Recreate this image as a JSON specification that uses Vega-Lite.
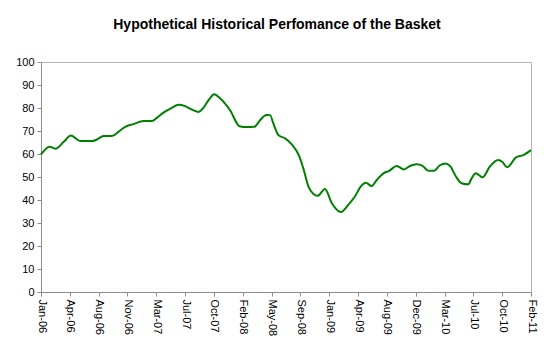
{
  "$schema": "https://vega.github.io/schema/vega-lite/v6.json",
  "autosize": "none",
  "width": 490,
  "height": 230,
  "padding": {"left": 41, "top": 62, "right": 20, "bottom": 61},
  "background": "white",
  "title": {
    "text": "Hypothetical Historical Perfomance of the Basket",
    "font": "Liberation Sans",
    "fontSize": 14,
    "fontWeight": "bold",
    "color": "#000000",
    "anchor": "middle",
    "dx": -9,
    "offset": 24
  },
  "config": {
    "view": {"stroke": "#b4b4b4", "strokeWidth": 1},
    "axis": {
      "labelFont": "Liberation Sans",
      "labelFontSize": 11,
      "labelColor": "#000000",
      "domainColor": "#8c8c8c",
      "tickColor": "#8c8c8c",
      "grid": false,
      "title": null
    }
  },
  "data": {
    "values": [
      {"pos": 0.0, "value": 59.8},
      {"pos": 0.3, "value": 63.2},
      {"pos": 0.5, "value": 62.3},
      {"pos": 0.79, "value": 65.3},
      {"pos": 1.04, "value": 68.0},
      {"pos": 1.36, "value": 65.6},
      {"pos": 1.77, "value": 65.6},
      {"pos": 1.94, "value": 66.3},
      {"pos": 2.17, "value": 67.8},
      {"pos": 2.46, "value": 67.8},
      {"pos": 2.69, "value": 69.7},
      {"pos": 2.92, "value": 71.8},
      {"pos": 3.21, "value": 73.0},
      {"pos": 3.56, "value": 74.3},
      {"pos": 3.85, "value": 74.3},
      {"pos": 4.02, "value": 75.7},
      {"pos": 4.25, "value": 78.0},
      {"pos": 4.54, "value": 80.1},
      {"pos": 4.77, "value": 81.4},
      {"pos": 5.0, "value": 80.8},
      {"pos": 5.24, "value": 79.3},
      {"pos": 5.47, "value": 78.3},
      {"pos": 5.64, "value": 80.2},
      {"pos": 5.85, "value": 84.1},
      {"pos": 6.01, "value": 86.0},
      {"pos": 6.22, "value": 84.1},
      {"pos": 6.56, "value": 79.0},
      {"pos": 6.89, "value": 72.1},
      {"pos": 7.14, "value": 71.7},
      {"pos": 7.4, "value": 71.8},
      {"pos": 7.6, "value": 74.7},
      {"pos": 7.82, "value": 77.0},
      {"pos": 7.95, "value": 76.9},
      {"pos": 8.06, "value": 73.3},
      {"pos": 8.24, "value": 68.2},
      {"pos": 8.47, "value": 66.8},
      {"pos": 8.7, "value": 64.2},
      {"pos": 8.96, "value": 59.1},
      {"pos": 9.1, "value": 53.8},
      {"pos": 9.28, "value": 45.8},
      {"pos": 9.45, "value": 42.6},
      {"pos": 9.6, "value": 41.8},
      {"pos": 9.85, "value": 44.8},
      {"pos": 10.09, "value": 38.6},
      {"pos": 10.41, "value": 34.8},
      {"pos": 10.66, "value": 37.9},
      {"pos": 10.89, "value": 41.5},
      {"pos": 11.09, "value": 45.8},
      {"pos": 11.27, "value": 47.5},
      {"pos": 11.47, "value": 46.1},
      {"pos": 11.65, "value": 48.7},
      {"pos": 11.88, "value": 51.6},
      {"pos": 12.08, "value": 52.7},
      {"pos": 12.34, "value": 54.8},
      {"pos": 12.59, "value": 53.3},
      {"pos": 12.8, "value": 54.8},
      {"pos": 13.03, "value": 55.5},
      {"pos": 13.24, "value": 54.8},
      {"pos": 13.44, "value": 52.7},
      {"pos": 13.63, "value": 52.7},
      {"pos": 13.84, "value": 55.1},
      {"pos": 14.04, "value": 55.9},
      {"pos": 14.21, "value": 54.5},
      {"pos": 14.4, "value": 50.1},
      {"pos": 14.59, "value": 47.3},
      {"pos": 14.82, "value": 46.8},
      {"pos": 14.94, "value": 49.4},
      {"pos": 15.08, "value": 51.6},
      {"pos": 15.32, "value": 49.9},
      {"pos": 15.57, "value": 54.5},
      {"pos": 15.86, "value": 57.4},
      {"pos": 16.01, "value": 56.5},
      {"pos": 16.17, "value": 54.2},
      {"pos": 16.48, "value": 58.5},
      {"pos": 16.73, "value": 59.5},
      {"pos": 17.0, "value": 61.7}
    ]
  },
  "mark": {"type": "line", "color": "#008000", "strokeWidth": 2, "interpolate": "monotone"},
  "encoding": {
    "x": {
      "field": "pos",
      "type": "quantitative",
      "scale": {"domain": [0, 17], "nice": false, "zero": false},
      "axis": {
        "values": [0,1,2,3,4,5,6,7,8,9,10,11,12,13,14,15,16,17],
        "labelExpr": "['Jan-06','Apr-06','Aug-06','Nov-06','Mar-07','Jul-07','Oct-07','Feb-08','May-08','Sep-08','Jan-09','Apr-09','Aug-09','Dec-09','Mar-10','Jul-10','Oct-10','Feb-11'][datum.value]",
        "labelAngle": 90,
        "labelAlign": "left",
        "labelBaseline": "middle",
        "tickSize": 4,
        "labelPadding": 3,
        "labelFlush": false,
        "labelOverlap": false
      }
    },
    "y": {
      "field": "value",
      "type": "quantitative",
      "scale": {"domain": [0, 100], "nice": false},
      "axis": {
        "values": [0,10,20,30,40,50,60,70,80,90,100],
        "tickSize": 4,
        "labelPadding": 3,
        "labelFlush": false
      }
    }
  }
}
